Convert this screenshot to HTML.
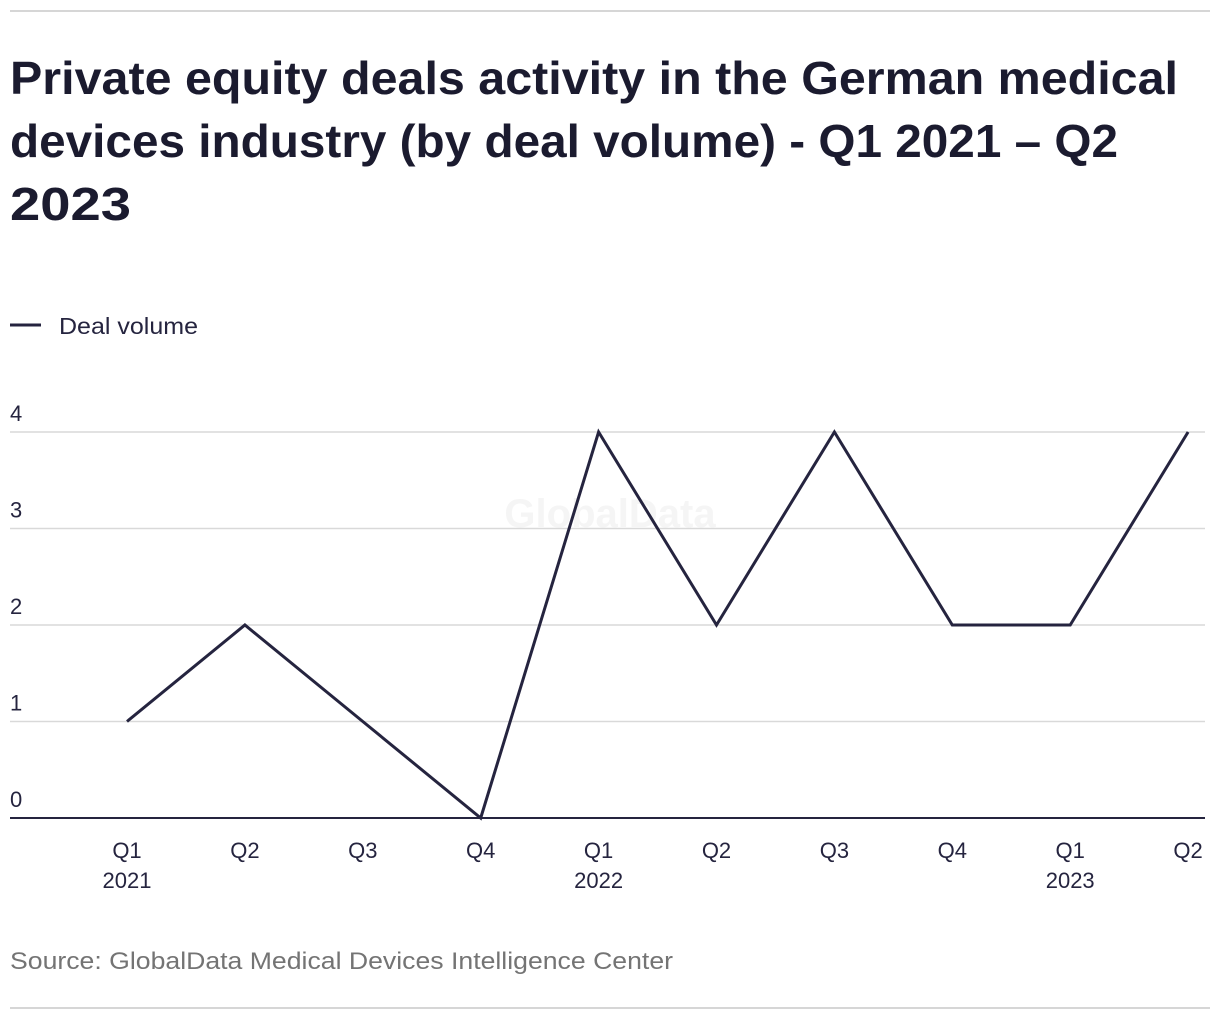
<!DOCTYPE html>
<html><head><meta charset="utf-8">
<style>
body{margin:0;background:#fff;width:1220px;height:1020px;overflow:hidden;font-family:"Liberation Sans",sans-serif;}
</style></head>
<body>
<svg width="1220" height="1020" xmlns="http://www.w3.org/2000/svg">
<line x1="10" y1="11" x2="1210" y2="11" stroke="#d6d6d6" stroke-width="2"/>
<g font-family="Liberation Sans, sans-serif" font-weight="bold" font-size="46" fill="#1b1b2f">
<text x="10" y="94" textLength="1168" lengthAdjust="spacingAndGlyphs">Private equity deals activity in the German medical</text>
<text x="10" y="157" textLength="1108" lengthAdjust="spacingAndGlyphs">devices industry (by deal volume) - Q1 2021 – Q2</text>
<text x="10" y="220" textLength="121" lengthAdjust="spacingAndGlyphs">2023</text>
</g>
<g>
<line x1="10" y1="325" x2="41" y2="325" stroke="#25243f" stroke-width="3"/>
<text x="59" y="334" font-size="23" fill="#25243f" textLength="139" lengthAdjust="spacingAndGlyphs">Deal volume</text>
</g>
<text x="610" y="527" text-anchor="middle" font-size="40" font-weight="bold" fill="#f5f5f5">GlobalData</text>
<g id="grid"></g>
<g id="plot"></g>
<text x="10" y="969" font-size="24" fill="#747474" textLength="663" lengthAdjust="spacingAndGlyphs">Source: GlobalData Medical Devices Intelligence Center</text>
<line x1="10" y1="1008" x2="1210" y2="1008" stroke="#d6d6d6" stroke-width="2"/>
</svg>
<script>
const quarters=["Q1","Q2","Q3","Q4","Q1","Q2","Q3","Q4","Q1","Q2"];
const years=["2021","","","","2022","","","","2023",""];
const values=[1,2,1,0,4,2,4,2,2,4];
const yTicks=[0,1,2,3,4];
const NS="http://www.w3.org/2000/svg";
const x=i=>127+i*117.9;
const y=v=>818-v*96.5;
const grid=document.getElementById('grid'),plot=document.getElementById('plot');
function mk(tag,attrs,parent){const e=document.createElementNS(NS,tag);for(const k in attrs)e.setAttribute(k,attrs[k]);parent.appendChild(e);return e;}
yTicks.forEach(t=>{
  const l=mk('line',{x1:10,x2:1205,y1:y(t),y2:y(t),stroke:t===0?'#25243f':'#d9d9d9','stroke-width':t===0?2:1.5},grid);
  
  
  const tx=mk('text',{x:10,y:y(t)-11,'font-size':22,fill:'#25243f'},grid);
  tx.textContent=t;
  
  
});
quarters.forEach((q,i)=>{
  const t=mk('text',{x:x(i),y:858,'font-size':22,fill:'#25243f','text-anchor':'middle'},grid);
  t.textContent=q;
  
  
  if(years[i]){
    const t2=mk('text',{x:x(i),y:888,'font-size':22,fill:'#25243f','text-anchor':'middle'},grid);
    t2.textContent=years[i];
    
    
  }
});
const p=mk('polyline',{points:values.map((v,i)=>x(i)+','+y(v)).join(' '),fill:'none',stroke:'#25243f','stroke-width':3,'stroke-linejoin':'miter'},plot);


</script>
</body></html>
